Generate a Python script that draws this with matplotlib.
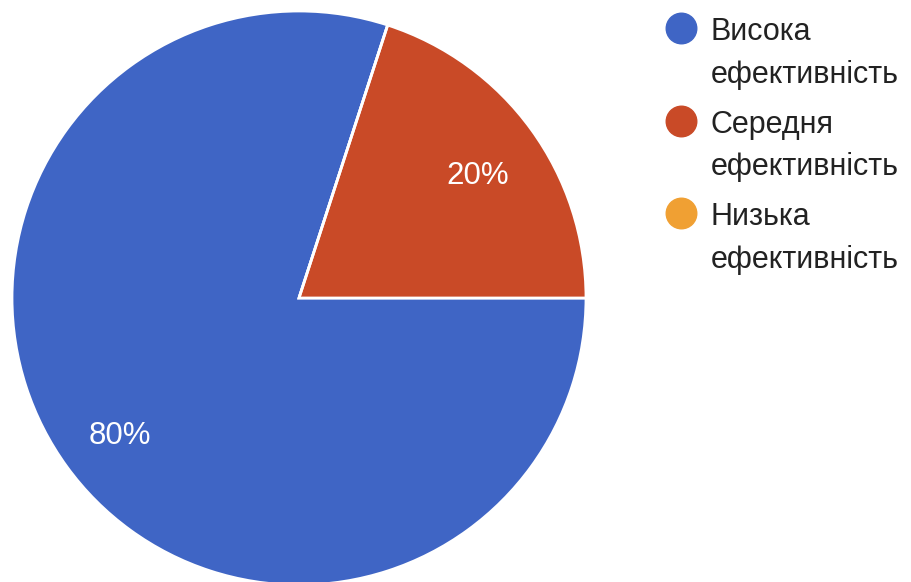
import matplotlib
matplotlib.use("Agg")
import matplotlib.pyplot as plt
from matplotlib.lines import Line2D

categories = ["Висока\nефективність", "Середня\nефективність", "Низька\nефективність"]
values = [80, 20, 0]
colors = ["#3f65c5", "#c94a27", "#f0a033"]

plt.rcParams['font.family'] = ['Liberation Sans', 'DejaVu Sans']

W, H = 912, 582
fig = plt.figure(figsize=(W / 100, H / 100), dpi=100)
cx, cy, r = 299, H - 298, 287
ax = fig.add_axes([(cx - r) / W, (cy - r) / H, 2 * r / W, 2 * r / H])

def fmt(p):
    return f"{p:.0f}%" if p > 0.5 else ""

wedges, texts, autotexts = ax.pie(
    values, colors=colors, startangle=72, counterclock=True,
    autopct=fmt, pctdistance=0.77,
    wedgeprops=dict(edgecolor="white", linewidth=2),
    textprops=dict(color="white", fontsize=22.5), radius=1.0)
for t in autotexts:
    x, y = t.get_position()
    t.set_position((x, y - 0.027))
ax.set_xlim(-1, 1)
ax.set_ylim(-1, 1)
ax.set_aspect("equal")
ax.axis("off")
for w in wedges:
    w.set_clip_on(False)

# legend drawn manually (circle aligned with the first line of each label)
for i, (lab, c) in enumerate(zip(categories, colors)):
    top_y = 28 + i * 92.5
    fig.add_artist(Line2D([681 / W], [1 - top_y / H], marker="o", linestyle="none",
                          markersize=22, markerfacecolor=c, markeredgecolor=c,
                          transform=fig.transFigure))
    for j, line in enumerate(lab.split("\n")):
        base = top_y + 12 + j * 43
        fig.text(711 / W, 1 - base / H, line, fontsize=22, color="#222222",
                 ha="left", va="baseline")

fig.savefig("out.png", dpi=100)
